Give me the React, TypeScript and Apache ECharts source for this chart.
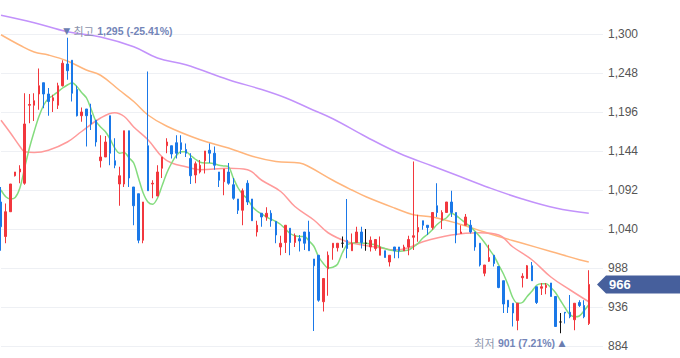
import React, { useEffect, useRef } from 'react';
import * as echarts from 'echarts';

// ---- data (daily candles, oldest -> newest) ----
const opens = [
  1076, 1030, 1063, 1111, 1116, 1101, 1205, 1205, 1220, 1235,
  1220, 1211, 1205, 1231, 1260, 1265, 1226, 1191, 1200, 1192,
  1185, 1131, 1136, 1191, 1131, 1100, 1100, 1171, 1096, 1087,
  1025, 1151, 1100, 1084, 1121, 1151, 1151, 1155, 1155, 1146,
  1134, 1112, 1116, 1131, 1145, 1141, 1116, 1103, 1116, 1099,
  1080, 1065, 1101, 1080, 1036, 1061, 1056, 1061, 1050, 1016,
  1022, 1041, 1022, 1027, 1036, 1036, 1000, 1005, 943, 987,
  1015, 1015, 1021, 1025, 1011, 1022, 1036, 1021, 1016, 1014,
  1005, 1011, 996, 1016, 1016, 1011, 1016, 1029, 1036, 1051,
  1045, 1042, 1071, 1052, 1062, 1076, 1062, 1034, 1045, 1045,
  1036, 1021, 981, 997, 1005, 990, 971, 945, 941, 918,
  975, 974, 991, 963, 961, 962, 968, 950, 916, 929,
  929, 919, 942, 938, 914,
];
const closes = [
  1043, 1063, 1100, 1116, 1120, 1180, 1206, 1211, 1231, 1220,
  1210, 1215, 1231, 1261, 1251, 1221, 1191, 1196, 1191, 1180,
  1156, 1136, 1156, 1141, 1125, 1111, 1171, 1108, 1071, 1025,
  1076, 1091, 1101, 1116, 1136, 1156, 1140, 1141, 1146, 1141,
  1111, 1127, 1125, 1144, 1141, 1125, 1105, 1120, 1101, 1081,
  1065, 1091, 1076, 1051, 1045, 1056, 1061, 1051, 1032, 1021,
  1045, 1022, 1031, 1024, 1021, 1011, 991, 945, 974, 1005,
  1021, 1021, 1021, 1014, 1021, 1036, 1022, 1021, 1025, 1026,
  1016, 1002, 1005, 1011, 1011, 1016, 1026, 1031, 1042, 1045,
  1042, 1062, 1062, 1062, 1076, 1062, 1032, 1036, 1056, 1036,
  1016, 992, 992, 1002, 994, 962, 940, 936, 928, 941,
  977, 991, 971, 942, 963, 965, 950, 910, 916, 928,
  923, 941, 938, 923, 966,
];
const lows = [
  1011, 1021, 1063, 1110, 1101, 1099, 1181, 1184, 1199, 1201,
  1191, 1196, 1200, 1230, 1239, 1210, 1190, 1183, 1150, 1172,
  1150, 1122, 1136, 1125, 1121, 1071, 1096, 1096, 1045, 1021,
  1021, 1091, 1081, 1084, 1108, 1141, 1134, 1134, 1140, 1136,
  1100, 1101, 1114, 1114, 1128, 1119, 1096, 1085, 1099, 1079,
  1060, 1045, 1072, 1051, 1030, 1043, 1051, 1043, 1021, 1005,
  1008, 1005, 1016, 1010, 1012, 1011, 904, 943, 930, 951,
  999, 1010, 1015, 1001, 1011, 1022, 1014, 1011, 1010, 1011,
  1005, 1002, 990, 1001, 1001, 1011, 1005, 1012, 1023, 1039,
  1032, 1039, 1056, 1040, 1062, 1056, 1021, 1034, 1045, 1034,
  1011, 990, 977, 996, 990, 961, 928, 928, 910, 905,
  962, 974, 971, 940, 952, 953, 950, 910, 901, 914,
  921, 905, 936, 921, 912,
];
const highs = [
  1096, 1074, 1100, 1116, 1125, 1221, 1220, 1221, 1254, 1235,
  1228, 1219, 1235, 1265, 1295, 1265, 1231, 1202, 1200, 1207,
  1185, 1165, 1164, 1191, 1161, 1123, 1171, 1171, 1096, 1087,
  1076, 1250, 1105, 1125, 1136, 1161, 1151, 1165, 1165, 1154,
  1141, 1130, 1132, 1144, 1154, 1150, 1116, 1120, 1128, 1108,
  1080, 1094, 1105, 1080, 1051, 1061, 1069, 1065, 1050, 1031,
  1045, 1041, 1034, 1032, 1036, 1051, 1000, 1005, 974, 1010,
  1021, 1021, 1030, 1080, 1034, 1043, 1043, 1040, 1030, 1026,
  1030, 1011, 1005, 1016, 1016, 1019, 1031, 1130, 1059, 1051,
  1045, 1062, 1101, 1065, 1076, 1091, 1062, 1045, 1060, 1052,
  1036, 1021, 992, 1019, 1005, 990, 971, 945, 941, 941,
  981, 992, 996, 963, 968, 968, 968, 950, 928, 929,
  952, 941, 945, 945, 985,
];

// moving averages
const ma5 = [
  1092, 1083, 1080, 1082, 1095, 1122, 1148, 1170, 1190, 1205,
  1214, 1218, 1223, 1228, 1232, 1235, 1230, 1222, 1215, 1200,
  1184, 1176, 1170, 1160, 1148, 1141, 1142, 1135, 1128, 1108,
  1088, 1076, 1073, 1081, 1098, 1115, 1128, 1138, 1143, 1143,
  1138, 1133, 1129, 1128, 1128, 1127, 1125, 1124, 1123, 1108,
  1095, 1086, 1080, 1070, 1064, 1060, 1056, 1053, 1050, 1046,
  1040, 1034, 1031, 1030, 1030, 1024, 1017, 1003, 994, 988,
  989, 993, 1008, 1019, 1021, 1022, 1021, 1021, 1020, 1019,
  1016, 1014, 1012, 1011, 1010, 1011, 1012, 1016, 1021, 1028,
  1033, 1039, 1046, 1051, 1055, 1061, 1058, 1053, 1048, 1043,
  1037, 1030, 1022, 1013, 1004, 992, 980, 965, 948, 941,
  942, 950, 957, 965, 967, 967, 962, 955, 945, 935,
  926, 923, 924, 931, 939,
];
const ma20 = [
  [0, 1185], [2, 1168], [4, 1150], [5, 1143], [7, 1142], [10, 1145],
  [14, 1156], [17, 1170], [21, 1188], [24, 1195], [26, 1190], [28, 1176],
  [31, 1159], [34, 1136], [36, 1128], [39, 1123], [42, 1119], [48, 1121],
  [52, 1119], [55, 1105], [59, 1090], [62, 1070], [66, 1052], [69, 1035],
  [73, 1023], [76, 1019], [80, 1015], [83, 1012], [86, 1015], [89, 1023],
  [95, 1032], [101, 1035], [105, 1032], [108, 1016], [112, 999], [116, 976],
  [120, 959], [124, 943],
];
const ma60 = [
  [0, 1299], [4, 1285], [7, 1276], [10, 1272], [14, 1264], [18, 1252],
  [21, 1245], [25, 1225], [28, 1210], [31, 1192], [35, 1177], [42, 1159],
  [48, 1148], [53, 1137], [58, 1130], [63, 1128], [65, 1123], [70, 1105],
  [74, 1092], [77, 1083], [83, 1068], [87, 1059], [91, 1056], [96, 1048],
  [102, 1036], [105, 1030], [110, 1021], [116, 1010], [122, 999], [124, 996],
];
const ma120 = [
  [0, 1325], [7, 1315], [14, 1303], [21, 1296], [28, 1283], [33, 1268],
  [39, 1259], [48, 1239], [55, 1226], [60, 1215], [65, 1201], [70, 1187],
  [77, 1163], [84, 1141], [91, 1124], [96, 1112], [103, 1095], [110, 1080],
  [117, 1068], [124, 1061],
];

const yTicks = [884, 936, 988, 1040, 1092, 1144, 1196, 1248, 1300];
const Y_TOP_VALUE = 1345.33; // value at the very top edge of the plot
const PAD_CATEGORIES = 3;

const UP = '#f2373d';
const DOWN = '#1a78e8';

export default function App() {
  const ref = useRef<HTMLDivElement>(null);

  useEffect(() => {
    const el = ref.current;
    if (!el) return;
    const chart = echarts.init(el, null, { renderer: 'svg' });

    const n = opens.length;
    const cats = Array.from({ length: n + PAD_CATEGORIES }, (_, i) => String(i));
    const candles = opens.map((o, i) => [o, closes[i], lows[i], highs[i]]);
    const hiVal = Math.max(...highs);
    const hiIdx = highs.indexOf(hiVal);
    const loVal = Math.min(...lows);
    const loIdx = lows.indexOf(loVal);
    const last = closes[n - 1];
    const hiPct = (((last - hiVal) / hiVal) * 100).toFixed(2);
    const loPct = (((last - loVal) / loVal) * 100).toFixed(2);

    const step = yTicks[1] - yTicks[0];
    const fmt = (v: number) => v.toLocaleString('en-US');

    const richBase = {
      t: { color: '#6a7db0', fontSize: 9, fontFamily: 'DejaVu Sans' },
      k: { color: '#8b94ab', fontSize: 11, fontFamily: 'Noto Sans CJK KR' },
      v: { color: '#7385b8', fontSize: 10.5, fontWeight: 'bold', fontFamily: 'Liberation Sans, Arial, sans-serif' },
    };

    const lineCommon = {
      type: 'line' as const,
      showSymbol: false,
      symbol: 'none',
      silent: true,
      smooth: 0.4,
    };

    chart.setOption({
      animation: false,
      backgroundColor: '#ffffff',
      grid: { left: 1, right: 77, top: 0, bottom: 12 },
      xAxis: {
        type: 'category',
        data: cats,
        boundaryGap: false,
        axisLine: { show: false },
        axisTick: { show: false },
        axisLabel: { show: false },
        splitLine: { show: false },
      },
      yAxis: {
        type: 'value',
        position: 'right',
        min: yTicks[0],
        max: Y_TOP_VALUE,
        interval: step,
        axisLine: { show: false },
        axisTick: { show: false },
        splitLine: { show: true, showMaxLine: false, lineStyle: { color: '#eef0f4', width: 1 } },
        axisLabel: {
          showMaxLabel: false,
          margin: 5,
          color: '#555555',
          fontSize: 12,
          fontFamily: 'Liberation Sans, Arial, sans-serif',
          formatter: (v: number) => (yTicks.indexOf(v) >= 0 ? fmt(v) : ''),
        },
      },
      series: [
        {
          ...lineCommon,
          name: 'MA120',
          data: ma120,
          lineStyle: { color: '#c292fb', width: 1.5 },
          z: 2,
        },
        {
          ...lineCommon,
          name: 'MA60',
          data: ma60,
          lineStyle: { color: '#ffb57c', width: 1.5 },
          z: 2,
        },
        {
          ...lineCommon,
          name: 'MA20',
          data: ma20,
          lineStyle: { color: '#ff9a9a', width: 1.5 },
          z: 2,
        },
        {
          ...lineCommon,
          name: 'MA5',
          data: ma5,
          smooth: 0.3,
          lineStyle: { color: '#84dc7e', width: 1.5 },
          z: 2,
        },
        {
          type: 'candlestick',
          name: 'price',
          data: candles,
          barWidth: 2,
          z: 3,
          itemStyle: {
            color: UP,
            color0: DOWN,
            borderColor: UP,
            borderColor0: DOWN,
            borderColorDoji: '#111111',
            borderWidth: 1,
          },
          markPoint: {
            silent: true,
            symbol: 'circle',
            symbolSize: 1,
            itemStyle: { color: 'rgba(0,0,0,0)' },
            data: [
              {
                coord: [hiIdx, hiVal],
                label: {
                  show: true,
                  position: 'inside',
                  align: 'left',
                  verticalAlign: 'middle',
                  offset: [-4, -7],
                  formatter: `{t|▼} {k|최고} {v|${fmt(hiVal)} (${hiPct}%)}`,
                  rich: richBase,
                },
              },
              {
                coord: [loIdx, loVal],
                label: {
                  show: true,
                  position: 'inside',
                  align: 'right',
                  verticalAlign: 'middle',
                  offset: [5, 10],
                  formatter: `{k|최저} {v|${fmt(loVal)} (${loPct}%)} {t|▲}`,
                  rich: richBase,
                },
              },
            ],
          },
        },
      ],
    });

    const py = chart.convertToPixel({ yAxisIndex: 0 }, last) as number;
    const tipX = 597;
    const bodyX = 606;
    const half = 9;
    chart.setOption({
      graphic: [
        {
          type: 'polygon',
          silent: true,
          z: 100,
          shape: {
            points: [
              [tipX, py],
              [bodyX, py - half],
              [680, py - half],
              [680, py + half],
              [bodyX, py + half],
            ],
          },
          style: { fill: '#465f9c' },
        },
        {
          type: 'text',
          silent: true,
          z: 101,
          x: 609,
          y: py,
          style: {
            text: fmt(last),
            fill: '#ffffff',
            font: 'bold 13px "Liberation Sans", Arial, sans-serif',
            verticalAlign: 'middle',
            align: 'left',
          },
        },
      ],
    });

    return () => chart.dispose();
  }, []);

  return (
    <div
      ref={ref}
      style={{ position: 'fixed', left: 0, top: 0, width: 680, height: 358, background: '#fff' }}
    />
  );
}
